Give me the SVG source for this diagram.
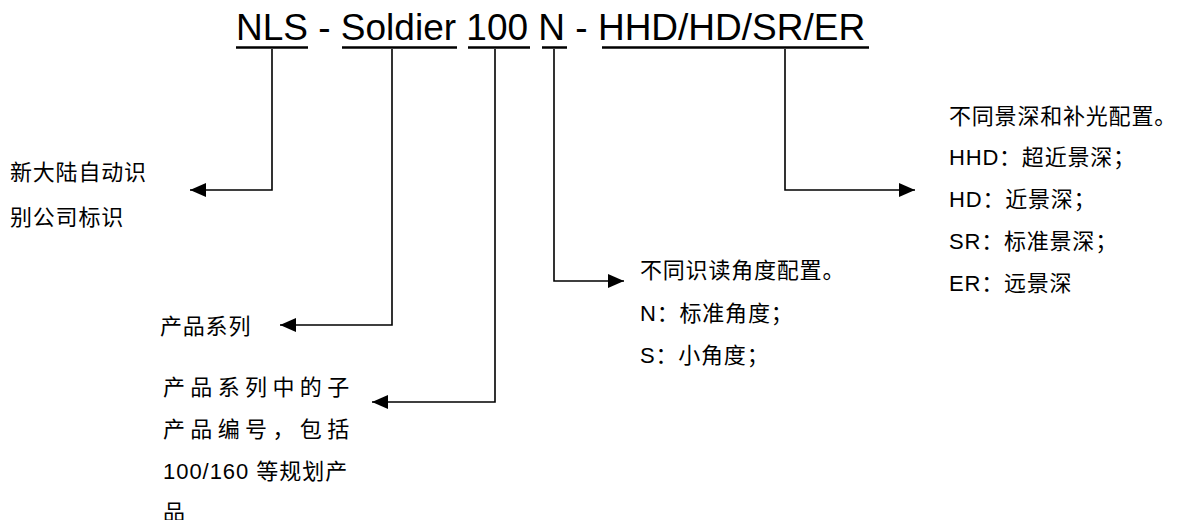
<svg xmlns="http://www.w3.org/2000/svg" width="1186" height="520" viewBox="0 0 1186 520">
<style>
.title{font-family:"Liberation Sans","Noto Sans CJK SC",sans-serif;font-size:37px;fill:#000}
.t{font-family:"Liberation Sans","Noto Sans CJK SC",sans-serif;font-size:22px;fill:#000;letter-spacing:0.8px}
.ul{stroke:#000;stroke-width:2.5}
.c{fill:none;stroke:#000;stroke-width:1.6}
</style>
<defs>
<marker id="ah" viewBox="0 0 16 16" refX="16" refY="8" markerWidth="16" markerHeight="16" markerUnits="userSpaceOnUse" orient="auto">
<path d="M0,1 L16,8 L0,15 Z" fill="#000"/>
</marker>
</defs>
<rect width="1186" height="520" fill="#fff"/>
<g id="title">
<text class="title" x="236" y="40">NLS - Soldier 100 N - HHD/HD/SR/ER</text>
<line class="ul" x1="236" y1="47.5" x2="308" y2="47.5"/>
<line class="ul" x1="342" y1="47.5" x2="457" y2="47.5"/>
<line class="ul" x1="468" y1="47.5" x2="530" y2="47.5"/>
<line class="ul" x1="542" y1="47.5" x2="567" y2="47.5"/>
<line class="ul" x1="602" y1="47.5" x2="869" y2="47.5"/>
</g>
<g id="connectors">
<path class="c" d="M272,49 V190 H190" marker-end="url(#ah)"/>
<path class="c" d="M392,49 V325 H280" marker-end="url(#ah)"/>
<path class="c" d="M495,49 V402 H372" marker-end="url(#ah)"/>
<path class="c" d="M554,49 V281 H624" marker-end="url(#ah)"/>
<path class="c" d="M785,49 V190 H915" marker-end="url(#ah)"/>
</g>
<g id="node-nls">
<text class="t" x="10" y="180">新大陆自动识</text>
<text class="t" x="10" y="225">别公司标识</text>
</g>
<g id="node-soldier">
<text class="t" x="160" y="334">产品系列</text>
</g>
<g id="node-100">
<text class="t" x="163" y="395" textLength="187" lengthAdjust="spacing">产品系列中的子</text>
<text class="t" x="163" y="437" textLength="187" lengthAdjust="spacing">产品编号，包括</text>
<text class="t" x="163" y="479" textLength="185" lengthAdjust="spacing">100/160 等规划产</text>
<text class="t" x="163" y="520">品</text>
</g>
<g id="node-n">
<text class="t" x="640" y="278">不同识读角度配置。</text>
<text class="t" x="640" y="321">N：标准角度；</text>
<text class="t" x="640" y="363">S：小角度；</text>
</g>
<g id="node-hhd">
<text class="t" x="949" y="124">不同景深和补光配置。</text>
<text class="t" x="949" y="165">HHD：超近景深；</text>
<text class="t" x="949" y="207">HD：近景深；</text>
<text class="t" x="949" y="249">SR：标准景深；</text>
<text class="t" x="949" y="291">ER：远景深</text>
</g>
</svg>
